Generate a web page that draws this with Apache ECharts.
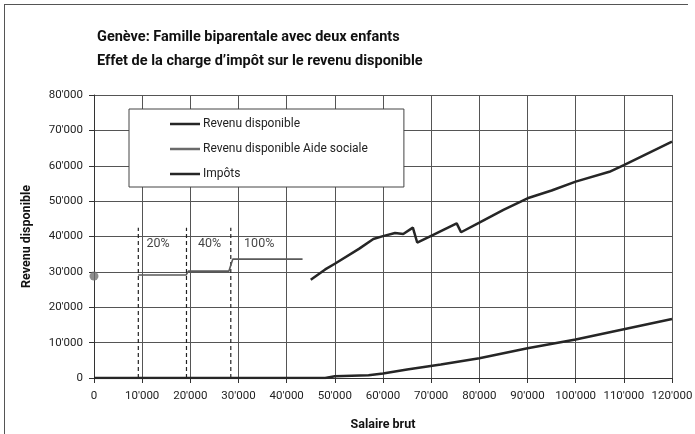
<!DOCTYPE html>
<html>
<head>
<meta charset="utf-8">
<script src="https://cdn.jsdelivr.net/npm/echarts@6/dist/echarts.min.js"></script>
<style>html,body{margin:0;padding:0;background:#fff}#c{width:695px;height:434px}</style>
</head>
<body>
<div id="c"></div>
<script>
// Revenu disponible
const rdX = [45000,48000,50000,55000,58000,60000,62500,64200,66200,67100,70000,75300,76200,80000,85000,90000,95000,100000,107000,110000,115000,120000];
const rdY = [27800,30700,32300,36500,39300,40100,41000,40700,42500,38300,40200,43700,41200,43900,47500,50800,53000,55500,58300,60200,63500,66800];
// Revenu disponible Aide sociale
const asX = [9200,19100,19600,28000,28800,43300];
const asY = [29100,29100,30200,30200,33600,33600];
// Impôts
const imX = [0,10000,20000,30000,40000,48000,50000,57000,60000,65000,72000,80000,90000,100000,110000,120000];
const imY = [0,0,0,0,0,0,500,800,1300,2400,3800,5600,8400,10900,13800,16700];
// Seuils (lignes pointillées) et étiquettes
const thresholdX = [9200,19200,28400];
const thresholdTop = 42500;
const pctLabels = ['20%','40%','100%'];
const pctX = [13300,24000,34300];
const pctY = 38000;
// Point isolé
const dotX = [0];
const dotY = [28800];

const fmt = v => {
  if (v === 0) return '0';
  const s = String(v);
  return s.slice(0, s.length-3) + "'" + s.slice(s.length-3);
};
const zip = (xs, ys) => xs.map((x,i)=>[x, ys[i]]);
const FONT = 'Roboto';

const series = [
  {name:'Revenu disponible', type:'line', data:zip(rdX, rdY), symbol:'none', lineStyle:{color:'#262626', width:2.5}, itemStyle:{color:'#262626'}, z:5},
  {name:'Revenu disponible Aide sociale', type:'line', data:zip(asX, asY), symbol:'none', lineStyle:{color:'#5a5a5a', width:1.6}, itemStyle:{color:'#6a6a6a'}, z:5},
  {name:'Impôts', type:'line', data:zip(imX, imY), symbol:'none', lineStyle:{color:'#262626', width:2.5}, itemStyle:{color:'#262626'}, z:5}
];
thresholdX.forEach((x,i)=>{
  series.push({name:'seuil'+i, type:'line', data:[[x,0],[x,thresholdTop]], symbol:'none', silent:true,
    lineStyle:{color:'#222', width:1.2, type:[4,3]}, z:4});
});
series.push({name:'pct', type:'scatter', symbolSize:0, silent:true,
  data: pctX.map((x,i)=>({value:[x,pctY], label:{show:true, formatter:pctLabels[i]}})),
  label:{position:'inside', color:'#111', fontSize:12.5, fontFamily:FONT}});
series.push({name:'dot', type:'scatter', data:zip(dotX, dotY), symbol:'circle', symbolSize:9,
  itemStyle:{color:'#707070'}, silent:true, z:6});

const chart = echarts.init(document.getElementById('c'), null, {renderer:'canvas'});
chart.setOption({
  animation:false,
  backgroundColor:'#fff',
  title:{
    text:'Genève: Famille biparentale avec deux enfants\nEffet de la charge d\u2019impôt sur le revenu disponible',
    left:92, top:20,
    textStyle:{fontFamily:FONT, fontWeight:'bold', fontSize:14.5, lineHeight:24, color:'#111'}
  },
  legend:{
    data:[
      {name:'Revenu disponible', icon:'rect'},
      {name:'Revenu disponible Aide sociale', icon:'rect'},
      {name:'Impôts', icon:'rect'}
    ],
    orient:'vertical', left:129, top:109,
    padding:[8,36,6,41], itemGap:11, itemWidth:30, itemHeight:2.5,
    backgroundColor:'#fff', borderColor:'#444', borderWidth:1,
    textStyle:{fontFamily:FONT, fontSize:12, lineHeight:14, height:14, color:'#222', padding:[0,0,0,-2]},
    z:10
  },
  grid:{left:94, right:23, top:95, bottom:56, containLabel:false, outerBoundsMode:'none', show:false},
  xAxis:{
    type:'value', min:0, max:120000, interval:10000,
    name:'Salaire brut', nameLocation:'middle', nameGap:40,
    nameTextStyle:{fontFamily:FONT, fontWeight:'bold', fontSize:12.5, color:'#111'},
    axisLine:{show:true, lineStyle:{color:'#333', width:1}},
    axisTick:{show:true, length:5, lineStyle:{color:'#333'}},
    axisLabel:{formatter:fmt, fontFamily:FONT, fontSize:11.5, color:'#222', margin:12},
    splitLine:{show:true, lineStyle:{color:'#555', width:1}}
  },
  yAxis:{
    type:'value', min:0, max:80000, interval:10000,
    name:'Revenu disponible', nameLocation:'middle', nameGap:61, nameRotate:90,
    nameTextStyle:{fontFamily:FONT, fontWeight:'bold', fontSize:12.5, color:'#111'},
    axisLine:{show:true, lineStyle:{color:'#333', width:1}},
    axisTick:{show:true, length:5, lineStyle:{color:'#333'}},
    axisLabel:{formatter:fmt, fontFamily:FONT, fontSize:11.5, color:'#222', margin:11},
    splitLine:{show:true, lineStyle:{color:'#555', width:1}}
  },
  graphic:[
    {type:'line', shape:{x1:4, y1:4.5, x2:688, y2:4.5}, style:{stroke:'#555', lineWidth:1}, silent:true},
    {type:'line', shape:{x1:4.5, y1:4, x2:4.5, y2:434}, style:{stroke:'#555', lineWidth:1}, silent:true}
  ],
  series
});
</script>
</body>
</html>
